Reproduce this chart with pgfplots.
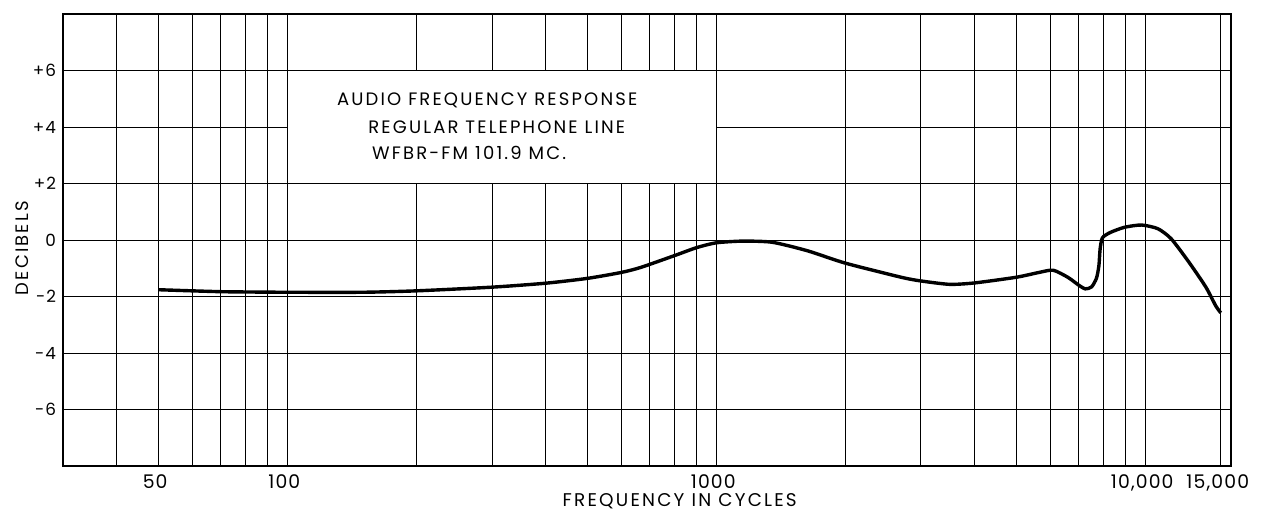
\documentclass[border=0pt]{standalone}
\usepackage{pgfplots}
\pgfplotsset{compat=1.18}
\usepackage{fontspec}
\setmainfont{Poppins}
\newfontfamily\lettering[LetterSpace=12]{Poppins}
\newfontfamily\ticklettering[LetterSpace=6]{Poppins}

\pgfplotstableread{
f db
50 -1.76
60 -1.80
70 -1.83
80 -1.84
100 -1.85
150 -1.85
200 -1.80
300 -1.67
400 -1.53
500 -1.36
600 -1.15
667 -0.97
800 -0.55
900 -0.27
1000 -0.10
1150 -0.04
1350 -0.08
1630 -0.38
2000 -0.82
2700 -1.32
3000 -1.45
3500 -1.57
4000 -1.52
5000 -1.32
5650 -1.15
6100 -1.07
6600 -1.32
7000 -1.60
7250 -1.73
7500 -1.66
7700 -1.35
7800 -0.90
7850 -0.32
7950 0.08
8300 0.27
8950 0.45
9800 0.53
10700 0.40
11500 0.04
12650 -0.79
13850 -1.67
14600 -2.33
15000 -2.58
}\response

\begin{document}
\begin{tikzpicture}
\path[use as bounding box] (-31.5pt,-23pt) rectangle (602pt,233pt);
\begin{axis}[
  at={(0,0)}, anchor=south west,
  scale only axis, width=584pt, height=226pt,
  xmode=log, xmin=30, xmax=15850, ymin=-8, ymax=8,
  xtick={50,100,1000,10000,15000},
  xticklabels={50,100,1000,{10,000},{15,000}},
  minor xtick={30,40,60,70,80,90,200,300,400,500,600,700,800,900,2000,3000,4000,5000,6000,7000,8000,9000},
  ytick={-6,-4,-2,0,2,4,6},
  yticklabels={-6,-4,-2,0,+2,+4,+6},
  grid=both,
  major grid style={black, line width=0.45pt},
  minor grid style={black, line width=0.45pt},
  axis line style={black, line width=0.7pt},
  major tick length=0pt, minor tick length=0pt,
  xticklabel style={font=\ticklettering\fontsize{9.4}{10}\selectfont, yshift=-1pt, xshift=-1.5pt},
  yticklabel style={font=\ticklettering\fontsize{8.4}{9}\selectfont, xshift=0pt},
  clip=false,
]
\filldraw[fill=white, draw=black, line width=0.45pt] (axis cs:100,2) rectangle (axis cs:1000,6);
\node[anchor=base west, font=\lettering\fontsize{9}{10}\selectfont, inner sep=0pt] at (rel axis cs:0.2343,0.7965) {AUDIO FREQUENCY RESPONSE};
\node[anchor=base west, font=\lettering\fontsize{9}{10}\selectfont, inner sep=0pt] at (rel axis cs:0.2611,0.736) {REGULAR TELEPHONE LINE};
\node[anchor=base west, font=\lettering\fontsize{9}{10}\selectfont, inner sep=0pt] at (rel axis cs:0.2643,0.677) {WFBR-FM 101.9 MC.};
\node[font=\lettering\fontsize{9.2}{10}\selectfont, anchor=center, inner sep=0pt, yshift=-17.6pt] at (rel axis cs:0.528,0) {FREQUENCY IN CYCLES};
\node[font=\lettering\fontsize{9}{10}\selectfont, anchor=center, xshift=-20.6pt, rotate=90] at (rel axis cs:0,0.482) {DECIBELS};
\addplot[black, line width=1.7pt, smooth, tension=0.4] table[x=f, y=db] {\response};
\end{axis}
\end{tikzpicture}
\end{document}
